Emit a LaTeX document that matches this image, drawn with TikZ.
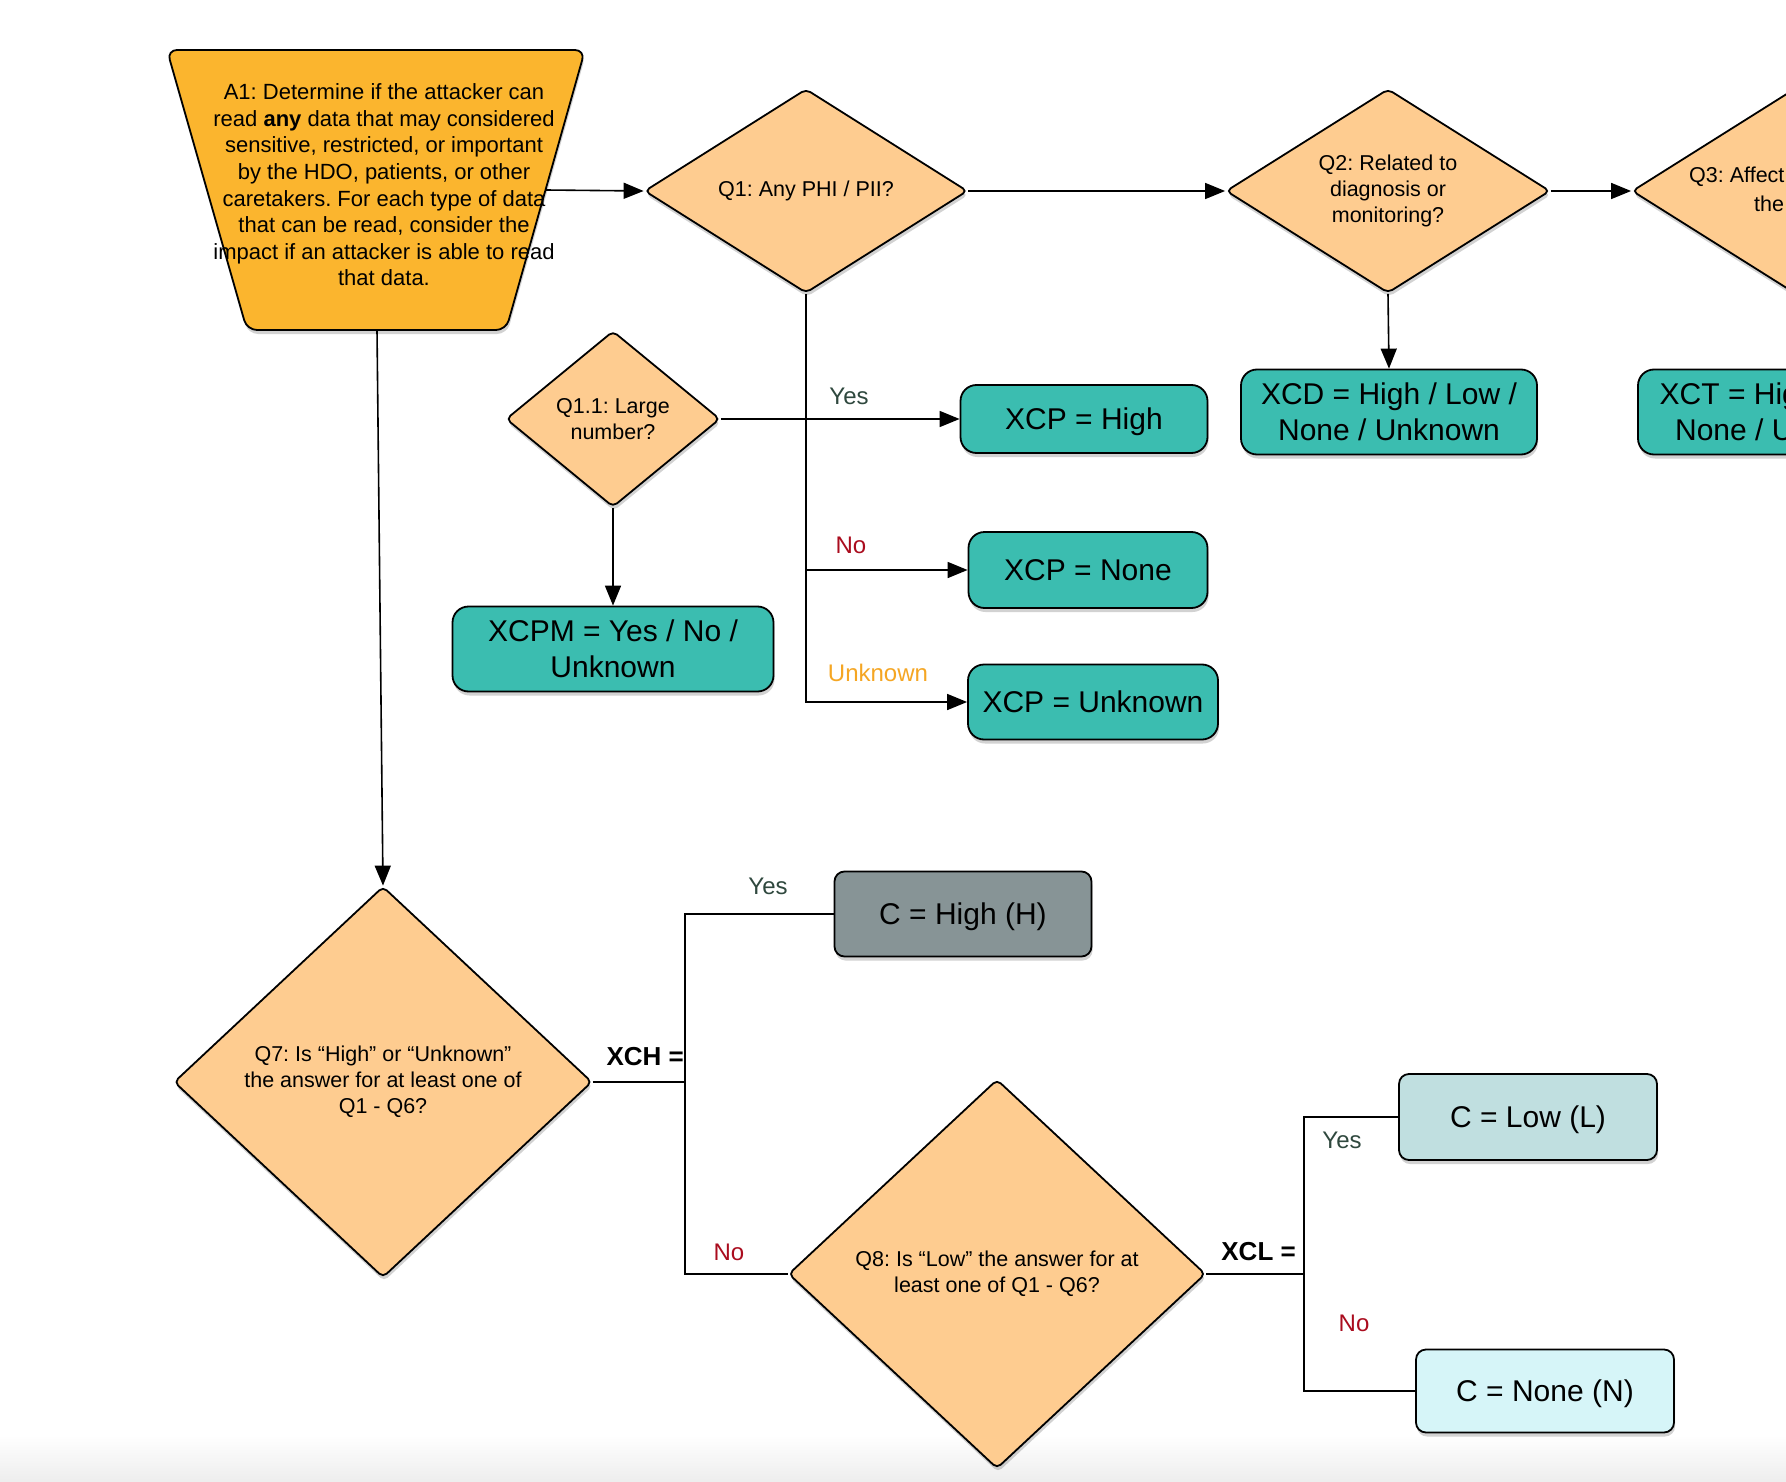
\documentclass[tikz,border=0pt]{standalone}
\usepackage{fontspec}
\setmainfont{Liberation Sans}
\usetikzlibrary{shapes.geometric,arrows.meta,shadows}
\definecolor{peach}{HTML}{FECC90}
\definecolor{gold}{HTML}{FBB52E}
\definecolor{tealbox}{HTML}{3BBDB0}
\definecolor{grayH}{HTML}{879496}
\definecolor{lowL}{HTML}{C0DFE0}
\definecolor{noneN}{HTML}{D6F5F8}
\definecolor{yescol}{HTML}{2F483E}
\definecolor{nocol}{HTML}{AA0C1E}
\definecolor{unkcol}{HTML}{F5A623}
\frenchspacing
\begin{document}
\begin{tikzpicture}[x=1pt,y=-1pt,
  shad/.style={drop shadow={shadow xshift=1pt,shadow yshift=-4pt,opacity=0.25,fill=black!70}},
  dia/.style={diamond,draw=black,line width=1.8pt,fill=peach,inner sep=0pt,rounded corners=5pt,
    font=\fontsize{21.5}{26}\selectfont,align=center,shad},
  tbox/.style={rectangle,rounded corners=16pt,draw=black,line width=1.8pt,fill=tealbox,
    font=\fontsize{30}{36}\selectfont,align=center,inner sep=0pt,shad},
  cbox/.style={rectangle,rounded corners=10pt,draw=black,line width=1.8pt,
    font=\fontsize{30}{36}\selectfont,align=center,inner sep=0pt,text depth=0pt,shad},
  conn/.style={line width=1.6pt},
  arr/.style={conn,-{Triangle[length=20pt,width=16pt]}},
  lab/.style={font=\fontsize{24}{28}\selectfont,inner sep=0pt},
  blab/.style={font=\fontsize{26}{30}\selectfont\bfseries,inner sep=0pt},
  small/.style={font=\fontsize{21.5}{26}\selectfont,inner sep=0pt}
]
\useasboundingbox (0,0) rectangle (1786,1482);
\clip (0,0) rectangle (1786,1482);
\fill[white] (0,0) rectangle (1786,1482);
\shade[top color=white,bottom color=black!7] (0,1435) rectangle (1786,1482);

% A1 trapezoid
\path[draw=black,line width=1.8pt,fill=gold,rounded corners=10pt,shad]
  (167,50) -- (585,50) -- (506,330) -- (247,330) -- cycle;
\coordinate (A1east) at (546,190);
\coordinate (A1south) at (377,330);
\node[font=\fontsize{22}{26.6}\selectfont,align=center,inner sep=0pt] (A1) at (384,185)
 {A1: Determine if the attacker can\\read \textbf{any} data that may considered\\sensitive, restricted, or important\\by the HDO, patients, or other\\caretakers. For each type of data\\that can be read, consider the\\impact if an attacker is able to read\\that data.};

% top row diamonds
\node[dia,minimum width=323pt,minimum height=204pt,aspect=1.58] (Q1) at (806,191) {Q1: Any PHI / PII?};
\node[dia,minimum width=324pt,minimum height=204pt,aspect=1.58] (Q2) at (1388,191) {Q2: Related to\\diagnosis or\\monitoring?};
\node[dia,minimum width=324pt,minimum height=204pt,aspect=1.58] (Q3) at (1794,191) {};
\node[small,anchor=west] (Q3a) at (1689,177) {Q3: Affect};
\node[small,anchor=west] (Q3b) at (1754,204) {the};

\node[dia,minimum width=214pt,minimum height=176pt,aspect=1.2] (Q11) at (613,419) {Q1.1: Large\\number?};

% teal boxes
\node[tbox,minimum width=247pt,minimum height=68pt,text depth=0pt] (XCPH) at (1084,419) {XCP = High};
\node[tbox,minimum width=239pt,minimum height=76pt] (XCPN) at (1088,570) {XCP = None};
\node[tbox,minimum width=250pt,minimum height=75pt] (XCPU) at (1093,702) {XCP = Unknown};
\node[tbox,minimum width=321pt,minimum height=85pt] (XCPM) at (613,649) {XCPM = Yes / No /\\Unknown};
\node[tbox,minimum width=296pt,minimum height=85pt] (XCD) at (1389,412) {XCD = High / Low /\\None / Unknown};
\node[tbox,minimum width=296pt,minimum height=85pt] (XCT) at (1786,412) {XCT = High / Low /\\None / Unknown};

% bottom part
\node[dia,minimum width=418pt,minimum height=391pt,aspect=1.07] (Q7) at (383,1082)
 {Q7: Is “High” or “Unknown”\\the answer for at least one of\\Q1 - Q6?};
\node[dia,minimum width=417pt,minimum height=389pt,aspect=1.07] (Q8) at (997,1274)
 {Q8: Is “Low” the answer for at\\least one of Q1 - Q6?};
\node[cbox,fill=grayH,minimum width=257pt,minimum height=85pt] (CH) at (963,914) {C = High (H)};
\node[cbox,fill=lowL,minimum width=258pt,minimum height=86pt] (CL) at (1528,1117) {C = Low (L)};
\node[cbox,fill=noneN,minimum width=258pt,minimum height=83pt] (CN) at (1545,1391) {C = None (N)};

% connectors top
\draw[arr] (A1east) -- (Q1.west);
\draw[arr] (Q1.east) -- (Q2.west);
\draw[arr] (Q2.east) -- (Q3.west);
\draw[arr] (Q2.south) -- (XCD.north);
\draw[arr] (Q11.east) -- (XCPH.west);
\draw[arr] (Q11.south) -- (XCPM.north);
\draw[arr] (Q1.south) |- (XCPU.west);
\draw[arr] (Q1.south |- XCPN.west) -- (XCPN.west);
\draw[arr] (A1south) -- (Q7.north);

\node[lab,text=yescol] (ly1) at (849,396) {Yes};
\node[lab,text=nocol] (ln1) at (851,545) {No};
\node[lab,text=unkcol] (lu1) at (878,673) {Unknown};

% connectors bottom
\coordinate (j1) at (685,1082);
\draw[conn] (Q7.east) -- (j1) |- (CH.west);
\draw[conn] (j1) |- (Q8.west);
\coordinate (j2) at (1304,1274);
\draw[conn] (Q8.east) -- (j2) |- (CL.west);
\draw[conn] (j2) |- (CN.west);

\node[blab,anchor=east] (xch) at (684,1057) {XCH =};
\node[lab,text=yescol] (ly2) at (768,886) {Yes};
\node[lab,text=nocol] (ln2) at (729,1252) {No};
\node[blab,anchor=east] (xcl) at (1296,1252) {XCL =};
\node[lab,text=yescol] (ly3) at (1342,1140) {Yes};
\node[lab,text=nocol] (ln3) at (1354,1323) {No};
\end{tikzpicture}
\end{document}
